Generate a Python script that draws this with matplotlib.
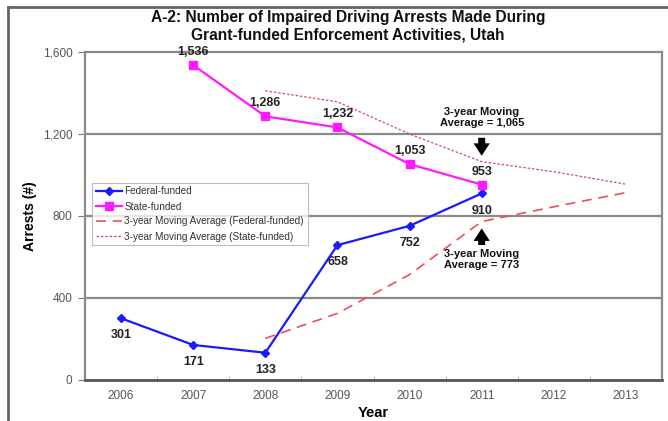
import matplotlib
matplotlib.use("Agg")
import matplotlib.pyplot as plt
from matplotlib.lines import Line2D
import numpy as np

# Data
years = ["2006", "2007", "2008", "2009", "2010", "2011", "2012", "2013"]
federal_years = ["2006", "2007", "2008", "2009", "2010", "2011"]
federal = [301, 171, 133, 658, 752, 910]
state_years = ["2007", "2008", "2009", "2010", "2011"]
state = [1536, 1286, 1232, 1053, 953]
ma_years = ["2008", "2009", "2010", "2011", "2012", "2013"]
federal_ma = [203, 325, 514, 773, 845, 914]
state_ma = [1411, 1357, 1200, 1065, 1016, 955]
yticks = [0, 400, 800, 1200, 1600]

NARROW = ["Liberation Sans Narrow", "Liberation Sans", "DejaVu Sans"]
ARIAL = ["Liberation Sans", "DejaVu Sans"]

xpos = {y: i for i, y in enumerate(years)}

fig = plt.figure(figsize=(6.68, 4.21), dpi=100)
ax = fig.add_axes([85 / 668, 1 - 380 / 421, (662 - 85) / 668, (380 - 52) / 421])

# Horizontal grid lines
for v in [400, 800, 1200]:
    ax.axhline(v, color="#8a8a8a", lw=1.6, zorder=1)

fx = [xpos[y] for y in federal_years]
sx = [xpos[y] for y in state_years]
mx = [xpos[y] for y in ma_years]

ax.plot(fx, federal, color="#1a1aff", lw=1.6, marker="D", ms=4, label="Federal-funded", zorder=4)
ax.plot(sx, state, color="#ff1aff", lw=1.6, marker="s", ms=6, label="State-funded", zorder=4)
ax.plot(mx, federal_ma, color="#e8505a", lw=1.2, ls=(0, (6, 4)),
        label="3-year Moving Average (Federal-funded)", zorder=3)
ax.plot(mx, state_ma, color="#d84a50", lw=0.9, ls=(0, (2, 1.5)),
        label="3-year Moving Average (State-funded)", zorder=3)

# Value labels
lab_font = dict(family=NARROW, fontsize=9, fontweight="bold", color="#222222", ha="center")
for x, v in zip(fx, federal):
    ax.annotate(f"{v:,}", (x, v), xytext=(0, -8), textcoords="offset points", va="top", **lab_font)
for x, v in zip(sx, state):
    ax.annotate(f"{v:,}", (x, v), xytext=(0, 5), textcoords="offset points", va="bottom", **lab_font)

# Moving-average callouts
arrow_style = dict(arrowstyle="simple,head_length=0.5,head_width=0.65,tail_width=0.28",
                   color="black", lw=0, mutation_scale=18)
i11 = xpos["2011"]
ax.text(i11, 1228, "3-year Moving\nAverage = 1,065", ha="center", va="bottom",
        family=NARROW, fontsize=8, fontweight="bold", linespacing=1.1, color="#111111")
ax.annotate("", xy=(i11, state_ma[3] + 15), xytext=(i11, 1195), arrowprops=arrow_style)
ax.text(i11, 640, "3-year Moving\nAverage = 773", ha="center", va="top",
        family=NARROW, fontsize=8, fontweight="bold", linespacing=1.1, color="#111111")
ax.annotate("", xy=(i11, federal_ma[3] - 20), xytext=(i11, 645), arrowprops=arrow_style)

ax.set_xlim(-0.5, len(years) - 0.5)
ax.set_ylim(0, 1600)
ax.set_yticks(yticks)
ax.set_yticklabels([f"{v:,}" for v in yticks], family=NARROW, fontsize=8.5, color="#555555")
ax.set_xticks(range(len(years)))
ax.set_xticklabels(years, family=NARROW, fontsize=8.5, color="#555555")
ax.set_xticks(np.arange(-0.5, len(years) + 0.5, 1), minor=True)
ax.tick_params(axis="x", which="major", length=0, pad=7)
ax.tick_params(axis="x", which="minor", length=3, color="#aaaaaa", direction="in")
ax.tick_params(axis="y", length=5, color="#777777", pad=4)

for s in ["left", "right", "top"]:
    ax.spines[s].set_color("#8a8a8a")
    ax.spines[s].set_linewidth(1.6)
ax.spines["bottom"].set_color("#555555")
ax.spines["bottom"].set_linewidth(2)

ax.set_ylabel("Arrests (#)", family=NARROW, fontsize=10, fontweight="bold", labelpad=4)
ax.set_xlabel("Year", family=NARROW, fontsize=10.5, fontweight="bold", labelpad=3)

leg = ax.legend(loc="upper left", bbox_to_anchor=((92 - 85) / 577, (380 - 183) / 328),
                prop=dict(family=ARIAL, size=7.2), frameon=True, fancybox=False,
                handlelength=2.6, handletextpad=0.3, borderpad=0.35, labelspacing=0.5,
                borderaxespad=0)
leg.get_frame().set_edgecolor("#aaaaaa")
leg.get_frame().set_linewidth(0.8)
for t in leg.get_texts():
    t.set_color("#333333")

fig.text(348 / 668, 1 - 26 / 421,
         "A-2: Number of Impaired Driving Arrests Made During\nGrant-funded Enforcement Activities, Utah",
         ha="center", va="center", family=NARROW, fontsize=11.2, fontweight="bold",
         linespacing=1.2, color="#111111")

# Outer frame (left and top edges)
fig.add_artist(Line2D([8 / 668, 8 / 668], [0, 1 - 7 / 421], transform=fig.transFigure,
                      color="#666666", lw=2))
fig.add_artist(Line2D([8 / 668, 1], [1 - 7 / 421, 1 - 7 / 421], transform=fig.transFigure,
                      color="#666666", lw=2))

fig.savefig("out.png", dpi=100)
